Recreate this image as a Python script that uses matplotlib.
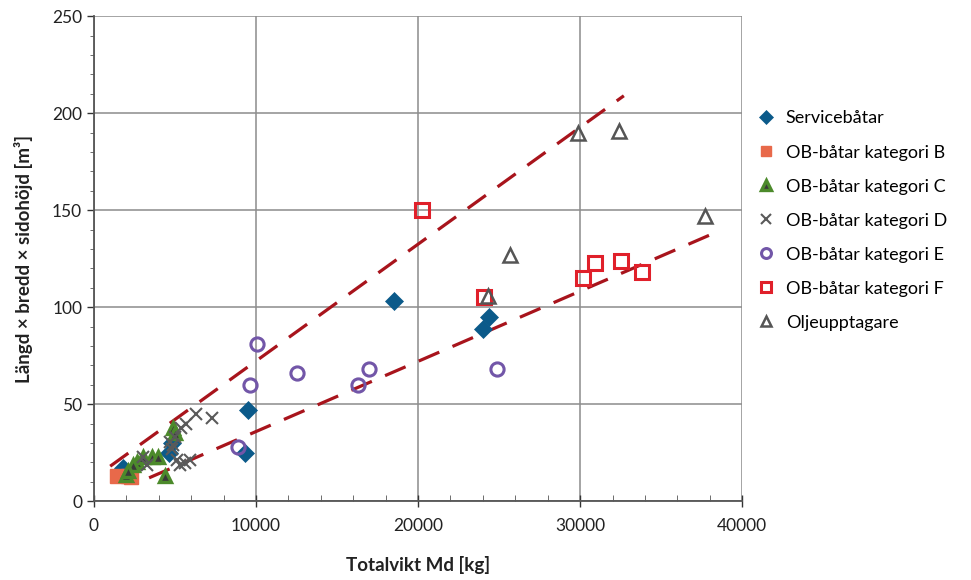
import numpy as np
import matplotlib
matplotlib.use('Agg')
import matplotlib.pyplot as plt
from matplotlib.ticker import MultipleLocator

plt.rcParams['font.family'] = ['Lato', 'DejaVu Sans']

# Servicebåtar
serv_x = [18500, 24000, 24400, 9500, 9300, 4600, 4800, 1800]
serv_y = [103, 89, 95, 47, 25, 25, 30, 17]

# OB-båtar kategori B
catb_x = [1400, 2100, 2300]
catb_y = [13, 13, 12.5]

# OB-båtar kategori C
catc_x = [2000, 4400, 4900, 2650, 3000, 3600, 3950, 2400, 2100, 5000]
catc_y = [13.5, 13, 37.5, 20, 23, 23, 23, 18.5, 15.5, 35]

# OB-båtar kategori D
catd_x = [6300, 7300, 5700, 5400, 5000, 4700, 4900, 5100, 5600, 5900, 5300, 3300, 3000, 4800]
catd_y = [45, 43, 40, 37.5, 33, 30.5, 29, 21, 19.5, 21, 18.5, 18.5, 22.5, 27]

# OB-båtar kategori E
cate_x = [10050, 9650, 12500, 16300, 17000, 24900, 8900]
cate_y = [81, 60, 66, 60, 68, 68, 28]

# OB-båtar kategori F
catf_x = [20250, 24100, 30200, 30900, 32500, 33800]
catf_y = [150, 105, 115, 123, 124, 118]

# Oljeupptagare
olje_x = [29900, 32400, 37700, 25700, 24300]
olje_y = [190, 191, 147, 127, 106]

# trend lines (end points)
trend1_x = [1000, 32700]
trend1_y = [18, 209]
trend2_x = [3400, 38500]
trend2_y = [12, 139]

fig = plt.figure(figsize=(9.71, 5.80), dpi=100)
ax = fig.add_axes([0.0968, 0.136, 0.6675, 0.836])

ax.plot(trend1_x, trend1_y, color='#A8141C', lw=2.3, dashes=(7, 4.5), zorder=2)
ax.plot(trend2_x, trend2_y, color='#A8141C', lw=2.3, dashes=(7, 4.5), zorder=2)

ax.plot(serv_x, serv_y, 'D', ls='none', color='#0B5A8A', ms=9.5, mec='#0B5A8A', mew=0.5,
        label='Servicebåtar', zorder=3)
ax.plot(catb_x, catb_y, 's', ls='none', color='#E8694A', ms=10, mec='#E8694A',
        label='OB-båtar kategori B', zorder=3)
ax.plot(catc_x, catc_y, '^', ls='none', mfc='#3A3A3A', mec='#4C8A2B', ms=9, mew=2.4,
        label='OB-båtar kategori C', zorder=3)
ax.plot(catd_x, catd_y, 'x', ls='none', color='#5A5A5A', ms=9, mew=1.5,
        label='OB-båtar kategori D', zorder=3)
ax.plot(cate_x, cate_y, 'o', ls='none', mfc='none', mec='#7256A8', ms=9.5, mew=2.2,
        label='OB-båtar kategori E', zorder=3)
ax.plot(catf_x, catf_y, 's', ls='none', mfc='none', mec='#E0202A', ms=9.5, mew=2.2,
        label='OB-båtar kategori F', zorder=3)
ax.plot(olje_x, olje_y, '^', ls='none', mfc='none', mec='#555555', ms=10, mew=1.8,
        label='Oljeupptagare', zorder=3)

ax.set_xlim(0, 40000)
ax.set_ylim(0, 250)
ax.xaxis.set_major_locator(MultipleLocator(10000))
ax.xaxis.set_minor_locator(MultipleLocator(2000))
ax.yaxis.set_major_locator(MultipleLocator(50))
ax.yaxis.set_minor_locator(MultipleLocator(10))
ax.grid(True, which='major', color='#8C8C8C', lw=1.1)
ax.set_axisbelow(True)

for s in ['top', 'right']:
    ax.spines[s].set_visible(False)
for s in ['left', 'bottom']:
    ax.spines[s].set_color('#555555')
    ax.spines[s].set_linewidth(1.3)

ax.tick_params(axis='both', which='major', labelsize=12.5, colors='#333333',
               labelcolor='#222222', length=5, direction='out', width=1)
ax.tick_params(axis='y', which='minor', length=3, direction='out', colors='#555555')
ax.tick_params(axis='x', which='minor', length=4, direction='in', colors='#555555')
ax.tick_params(axis='x', which='major', direction='inout', length=8, pad=8)

ax.set_xlabel('Totalvikt Md [kg]', fontsize=13.5, fontweight='bold', color='#222222', labelpad=16)
ax.set_ylabel('Längd × bredd × sidohöjd [m³]', fontsize=13.5, fontweight='bold', color='#222222', labelpad=14)

ax.legend(loc='upper left', bbox_to_anchor=(0.772, 0.822), bbox_transform=fig.transFigure,
          frameon=False, fontsize=13, handlelength=1.0, handletextpad=0.6,
          labelspacing=1.0, markerscale=0.75, borderaxespad=0)

fig.savefig('out.png', dpi=100)
